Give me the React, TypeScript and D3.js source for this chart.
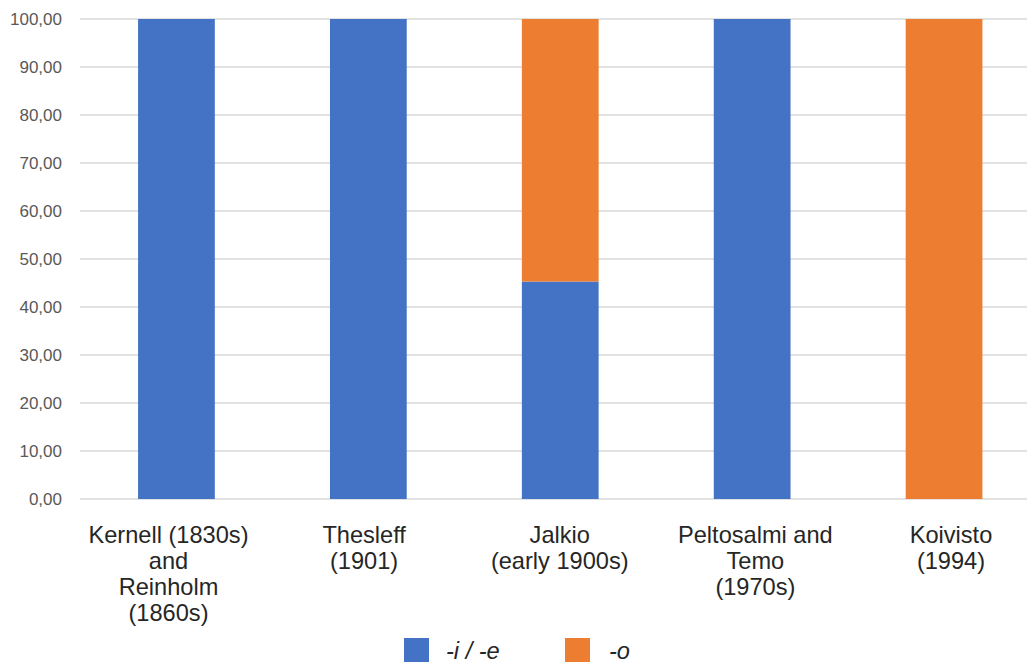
import React from "react";
import * as d3 from "d3";

const categories: string[][] = [
  ["Kernell (1830s)", "and", "Reinholm", "(1860s)"],
  ["Thesleff", "(1901)"],
  ["Jalkio", "(early 1900s)"],
  ["Peltosalmi and", "Temo", "(1970s)"],
  ["Koivisto", "(1994)"],
];
const seriesIE: number[] = [100, 100, 45.3, 100, 0];
const seriesO: number[] = [0, 0, 54.7, 0, 100];
const seriesNames = ["-i / -e", "-o"];
const yTicks: number[] = [0, 10, 20, 30, 40, 50, 60, 70, 80, 90, 100];

const W = 1027;
const H = 662;
const FONT = "'Liberation Sans', Arial, sans-serif";
const COLORS = ["#4472C4", "#ED7D31"];

export default function App() {
  const keys = categories.map((_, i) => String(i));
  const x = d3.scaleBand<string>().domain(keys).range([80.5, 1040]).paddingInner(0.6).paddingOuter(0.3);
  // category labels sit on a slightly wider spread than the bars
  const xLabel = d3.scalePoint<string>().domain(keys).range([168.5, 951]);
  const y = d3.scaleLinear().domain([0, 100]).range([499, 19]);

  const rows = categories.map((_, i) => ({ key: String(i), ie: seriesIE[i], o: seriesO[i] }));
  const stacked = d3.stack<{ key: string; ie: number; o: number }>().keys(["ie", "o"])(rows);

  const fmt = (v: number) => v.toFixed(2).replace(".", ",");

  return (
    <svg width={W} height={H} style={{ position: "absolute", left: 0, top: 0, background: "#fff" }}>
      <rect width={W} height={H} fill="#fff" />
      {yTicks.map((t) => (
        <g key={t}>
          <line x1={80} x2={W} y1={y(t)} y2={y(t)} stroke="#d9d9d9" strokeWidth={1.3} />
          <text x={62} y={y(t)} dy="0.36em" textAnchor="end" fontFamily={FONT} fontSize={17} fill="#595959">
            {fmt(t)}
          </text>
        </g>
      ))}
      {stacked.map((s, si) =>
        s.map((d, i) =>
          d[1] - d[0] > 0 ? (
            <rect
              key={`${si}-${i}`}
              x={x(rows[i].key)}
              width={x.bandwidth()}
              y={y(d[1])}
              height={y(d[0]) - y(d[1])}
              fill={COLORS[si]}
            />
          ) : null
        )
      )}
      {categories.map((lines, i) => (
        <text key={i} textAnchor="middle" fontFamily={FONT} fontSize={23.6} fill="#262626">
          {lines.map((l, li) => (
            <tspan key={li} x={xLabel(String(i))} y={543 + li * 26}>
              {l}
            </tspan>
          ))}
        </text>
      ))}
      {seriesNames.map((n, i) => {
        const lx = 404 + i * 161;
        return (
          <g key={n}>
            <rect x={lx} y={638} width={25} height={24} fill={COLORS[i]} />
            <text x={lx + 42 + i * 2} y={658.5} fontFamily={FONT} fontSize={23.6} fontStyle="italic" fill="#262626">
              {n}
            </text>
          </g>
        );
      })}
    </svg>
  );
}
